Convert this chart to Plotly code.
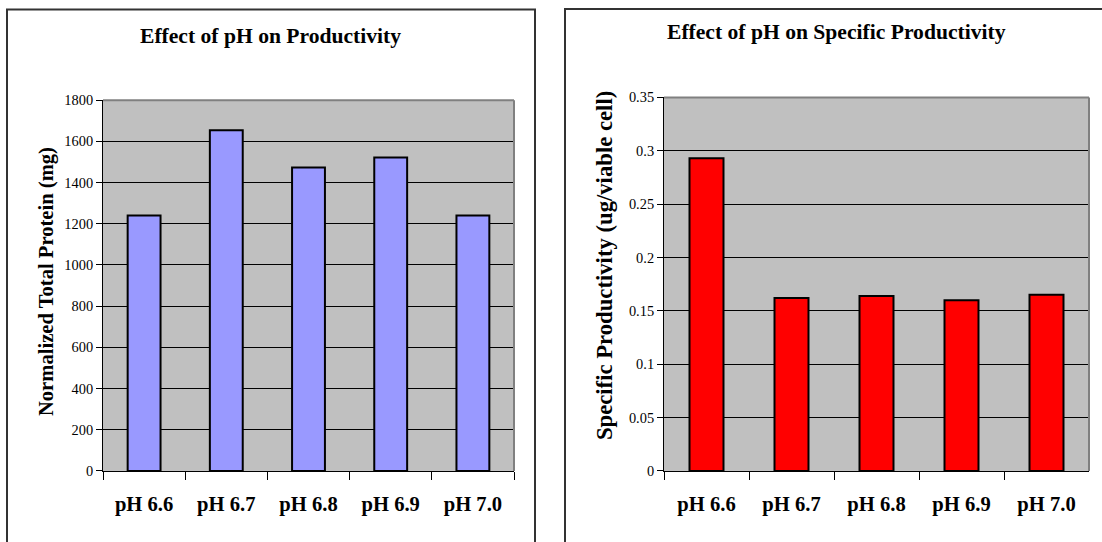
import plotly.graph_objects as go

# Culture pH conditions
categories = ["pH 6.6", "pH 6.7", "pH 6.8", "pH 6.9", "pH 7.0"]
# Normalized total protein (mg)
total_protein = [1240, 1654, 1473, 1522, 1240]
# Specific productivity (ug/viable cell)
specific_productivity = [0.293, 0.162, 0.164, 0.160, 0.165]

W, H = 1102, 542
SERIF = "Times New Roman, Liberation Serif, DejaVu Serif, serif"

# Vertical offset and scale used when converting pixel rows to paper fractions
Y_OFF, Y_SCALE = 7.8, 0.971


def px_x(v):
    return v / W


def px_y(v):
    return 1 - ((v - Y_OFF) / Y_SCALE) / H


def fs(size):
    return round(size / Y_SCALE, 1)


fig = go.Figure()

fig.add_trace(go.Bar(
    x=categories, y=total_protein, width=0.4,
    marker=dict(color="#9999FF", line=dict(color="black", width=2)),
    xaxis="x", yaxis="y", showlegend=False,
))
fig.add_trace(go.Bar(
    x=categories, y=specific_productivity, width=0.4,
    marker=dict(color="#FF0000", line=dict(color="black", width=2)),
    xaxis="x2", yaxis="y2", showlegend=False,
))

xaxis_common = dict(
    type="category", tickson="boundaries", ticks="outside", ticklen=8,
    tickcolor="black", showgrid=False, showline=True, linecolor="black",
    linewidth=1, zeroline=False, fixedrange=True, ticklabelstandoff=14,
    tickfont=dict(family=SERIF, size=fs(20), color="black", weight="bold"),
)
yaxis_common = dict(
    ticks="outside", ticklen=6, tickcolor="black", showgrid=True,
    gridcolor="black", gridwidth=1, showline=True, linecolor="black",
    linewidth=1, zeroline=False, fixedrange=True,
    tickfont=dict(family=SERIF, size=fs(14), color="black"),
)

fig.update_layout(
    width=W, height=H,
    margin=dict(l=0, r=0, t=0, b=0),
    font=dict(family=SERIF, color="black"),
    paper_bgcolor="white",
    plot_bgcolor="#C0C0C0",
    bargap=0.6,
    xaxis=dict(domain=[px_x(103), px_x(514)], anchor="y", **xaxis_common),
    yaxis=dict(domain=[px_y(471), px_y(100)], anchor="x", range=[0, 1800],
               dtick=200, **yaxis_common),
    xaxis2=dict(domain=[px_x(664), px_x(1089)], anchor="y2", **xaxis_common),
    yaxis2=dict(domain=[px_y(471), px_y(97.3)], anchor="x2", range=[0, 0.35],
                dtick=0.05, **yaxis_common),
)

# Gray top/right frame of each plot area
for xr, yr in (("x", "y"), ("x2", "y2")):
    fig.add_shape(type="line", xref=f"{xr} domain", yref=f"{yr} domain",
                  x0=0, x1=1, y0=1, y1=1, line=dict(color="#808080", width=2))
    fig.add_shape(type="line", xref=f"{xr} domain", yref=f"{yr} domain",
                  x0=1, x1=1, y0=0, y1=1, line=dict(color="#808080", width=2))

# Chart-area borders
fig.add_shape(type="rect", xref="paper", yref="paper",
              x0=px_x(7), x1=px_x(535), y0=-0.05, y1=1 - 1.5 / H,
              line=dict(color="#333333", width=2), layer="below")
fig.add_shape(type="rect", xref="paper", yref="paper",
              x0=px_x(565), x1=px_x(1120), y0=-0.05, y1=1 - 1 / H,
              line=dict(color="#333333", width=2), layer="below")

title_font = dict(family=SERIF, size=fs(21), color="black", weight="bold")

fig.add_annotation(text="Effect of pH on Productivity", xref="paper", yref="paper",
                   x=px_x(270), y=px_y(36), xanchor="center", yanchor="middle",
                   showarrow=False, font=title_font)
fig.add_annotation(text="Effect of pH on Specific Productivity", xref="paper", yref="paper",
                   x=px_x(836), y=px_y(32), xanchor="center", yanchor="middle",
                   showarrow=False, font=title_font)
fig.add_annotation(text="Normalized Total Protein (mg)", xref="paper", yref="paper",
                   x=px_x(46), y=px_y(282), xanchor="center", yanchor="middle",
                   textangle=-90, showarrow=False,
                   font=dict(family=SERIF, size=fs(20), color="black", weight="bold"))
fig.add_annotation(text="Specific Productivity (ug/viable cell)", xref="paper", yref="paper",
                   x=px_x(604), y=px_y(266), xanchor="center", yanchor="middle",
                   textangle=-90, showarrow=False,
                   font=dict(family=SERIF, size=fs(22), color="black", weight="bold"))

fig.write_html("out.html", config={"displayModeBar": False})
